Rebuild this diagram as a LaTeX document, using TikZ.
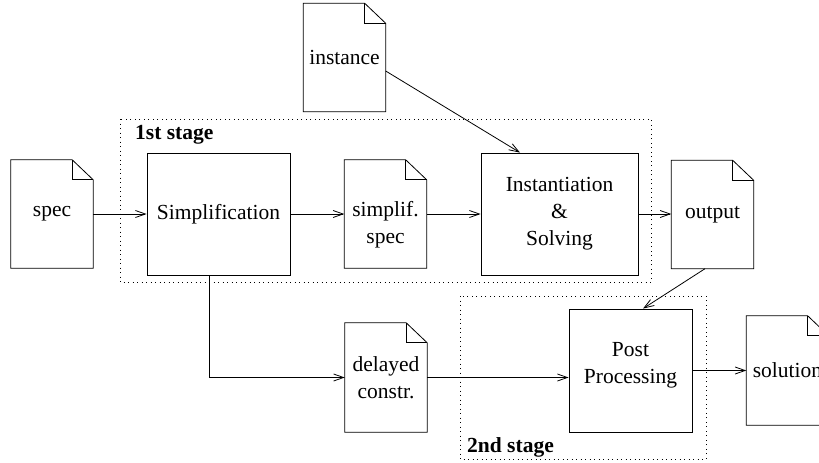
\documentclass[tikz,border=0pt]{standalone}
\usepackage{fontspec}
\setmainfont{Liberation Serif}
\newfontfamily\diagfont{Liberation Serif}
\usetikzlibrary{arrows.meta,calc}

\tikzset{
  px/.style={x={(1pt,0pt)},y={(0pt,-1pt)}},
  line/.style={line width=0.8pt,draw=black},
  arr/.style={line, -{Straight Barb[length=10pt,width=7pt,line width=0.8pt]}},
  procbox/.style={line, minimum width=#1, inner sep=0pt, align=center},
  docbox/.style={draw=none, inner sep=0pt, minimum width=82pt, minimum height=108pt, align=center},
  frame/.style={line width=0.8pt, dash pattern=on 0.9pt off 3.6pt},
  stagelabel/.style={anchor=base west, inner sep=0pt, font=\diagfont\fontsize{21.5}{27}\selectfont\bfseries},
  txt/.style={align=center, inner sep=0pt},
}

% outline of a document symbol with a folded top-right corner
\newcommand\docoutline[1]{%
  \draw[line] (#1.south west) -- (#1.north west) -- ([xshift=-21pt]#1.north east)
    -- ([yshift=-20pt]#1.north east) -- (#1.south east) -- cycle;
  \draw[line] ([xshift=-21pt]#1.north east) |- ([yshift=-20pt]#1.north east);
}

\begin{document}
\begin{tikzpicture}[px, font=\diagfont\fontsize{21.5}{27}\selectfont]
\useasboundingbox (0,0) rectangle (819,463);

% stage frames
\draw[frame] (120,119) rectangle (651,282);
\draw[frame] (460,296) rectangle (706,459);
\node[stagelabel] (l1) at (135,139) {1st stage};
\node[stagelabel] (l2) at (467,452) {2nd stage};

% documents
\node[docbox] (spec) at (52,214) {spec};
\node[docbox] (inst) at (344.5,57.5) {instance};
\node[docbox] (sspec) at (385.5,214) {};
\node[txt] (sspectxt) at (385.5,225) {simplif.\\spec};
\node[docbox] (out) at (712.5,214.5) {output};
\node[docbox, minimum height=109pt] (delayed) at (386,377.5) {delayed\\constr.};
\node[docbox, minimum height=109pt] (sol) at (787.5,370.5) {solution};
\foreach \d in {spec,inst,sspec,out,delayed,sol} {\docoutline{\d}}

% processing steps
\node[procbox=143pt, minimum height=122pt] (simp) at (218.5,214) {Simplification};
\node[procbox=157pt, minimum height=122pt] (solve) at (559.5,214) {Instantiation\\\&\\Solving};
\node[procbox=123pt, minimum height=123pt] (post) at (630.5,370.5) {};
\node[txt] (posttxt) at (630.5,365) {Post\\Processing};

% connectors
\draw[arr] (spec.east) -- (spec.east -| simp.west);
\draw[arr] (simp.east) -- (simp.east -| sspec.west);
\draw[arr] (sspec.east) -- (sspec.east -| solve.west);
\draw[arr] ([yshift=-13.5pt]inst.east) -- ([xshift=-39.5pt]solve.north);
\draw[arr] (solve.east) -- (solve.east -| out.west);
\draw[arr] ([xshift=-7.5pt]out.south) -- ([xshift=12.5pt]post.north);
\draw[arr] ([xshift=-9.5pt]simp.south) |- (delayed.west);
\draw[arr] (delayed.east) -- (delayed.east -| post.west);
\draw[arr] (post.east) -- (post.east -| sol.west);
\end{tikzpicture}
\end{document}
